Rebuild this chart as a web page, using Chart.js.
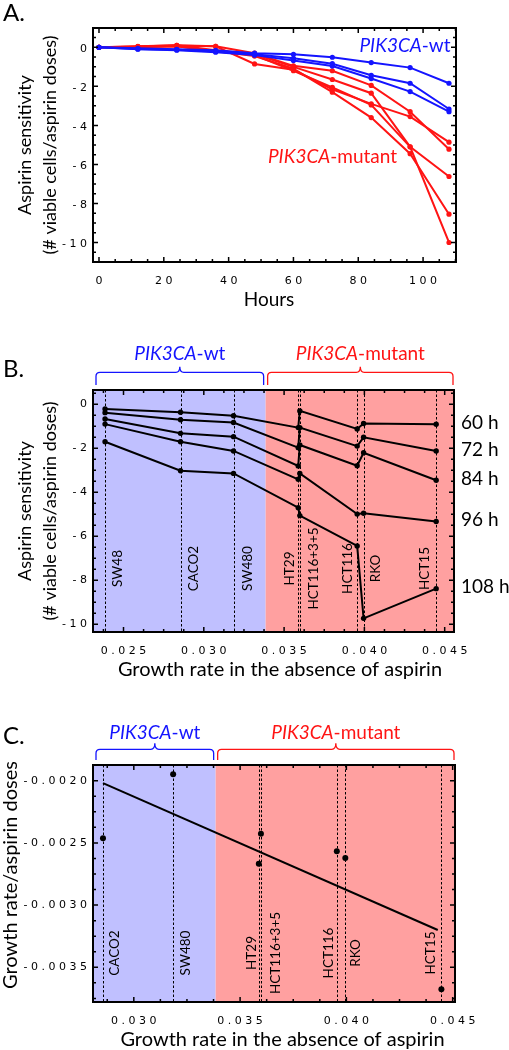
<!DOCTYPE html>
<html>
<head>
<meta charset="utf-8">
<script src="https://cdn.jsdelivr.net/npm/chart.js@4.4.0/dist/chart.umd.min.js"></script>
<style>
  body { margin: 0; background: #fff; width: 509px; height: 1050px; position: relative; overflow: hidden; }
  canvas { position: absolute; left: 0; }
</style>
</head>
<body>
<canvas id="chartA" width="509" height="310" style="top:0px"></canvas>
<canvas id="chartB" width="509" height="370" style="top:310px"></canvas>
<canvas id="chartC" width="509" height="370" style="top:680px"></canvas>
<script>
// ---- Datos ----
// Panel A: sensibilidad a la aspirina en el tiempo
const hours = [0, 12, 24, 36, 48, 60, 72, 84, 96, 108];
const wtSW48 = [0, -0.05, -0.10, -0.15, -0.30, -0.36, -0.51, -0.78, -1.04, -1.84];
const wtCACO2 = [0, -0.08, -0.12, -0.20, -0.35, -0.56, -0.84, -1.43, -1.84, -3.16];
const wtSW480 = [0, -0.10, -0.15, -0.25, -0.40, -0.68, -0.96, -1.60, -2.27, -3.30];
const mutHT29 = [0, 0.03, 0.08, 0.05, -0.85, -1.15, -2.15, -2.90, -3.55, -4.86];
const mutHCT116_3_5 = [0, 0.05, 0.10, 0.05, -0.30, -0.95, -1.20, -1.95, -3.30, -5.22];
const mutHCT116 = [0, 0.02, 0.06, -0.20, -0.40, -1.20, -2.05, -2.95, -5.10, -6.62];
const mutRKO = [0, 0.04, 0.10, -0.15, -0.35, -1.00, -1.65, -2.35, -5.10, -10.0];
const mutHCT15 = [0, 0.00, 0.05, -0.20, -0.45, -1.10, -2.30, -3.60, -5.45, -8.55];
const hourTicks = [0, 20, 40, 60, 80, 100];
const sensTicks = [-10, -8, -6, -4, -2, 0];

// Panel B: sensibilidad vs tasa de crecimiento
const cellLines = ['SW48', 'CACO2', 'SW480', 'HT29', 'HCT116+3+5', 'HCT116', 'RKO', 'HCT15'];
const growthRate = [0.02385, 0.02855, 0.03185, 0.03588, 0.03598, 0.03955, 0.03995, 0.04447];
const timeLabels = ['60 h', '72 h', '84 h', '96 h', '108 h'];
const sens60 = [-0.21, -0.36, -0.52, -1.06, -0.30, -1.12, -0.87, -0.91];
const sens72 = [-0.38, -0.70, -0.83, -1.97, -1.06, -1.90, -1.50, -2.12];
const sens84 = [-0.67, -1.32, -1.47, -2.80, -1.85, -2.79, -2.20, -3.45];
const sens96 = [-0.90, -1.70, -2.12, -3.41, -3.14, -4.99, -4.95, -5.33];
const sens108 = [-1.70, -3.02, -3.14, -4.70, -5.06, -6.44, -9.73, -8.38];
const growthTicksB = [0.025, 0.030, 0.035, 0.040, 0.045];
const wtBoundary = 0.03385; // límite wt / mutante

// Panel C: pendiente vs tasa de crecimiento (sin SW48)
const cellLinesC = ['CACO2', 'SW480', 'HT29', 'HCT116+3+5', 'HCT116', 'RKO', 'HCT15'];
const growthRateC = [0.02855, 0.03185, 0.03588, 0.03598, 0.03955, 0.03995, 0.04447];
const slopeC = [-0.002463, -0.001949, -0.002667, -0.002426, -0.002568, -0.002621, -0.003677];
const fitX = [0.02855, 0.0443];
const fitY = [-0.00202, -0.00320];
const growthTicksC = [0.030, 0.035, 0.040, 0.045];
const slopeTicks = [-0.0035, -0.0030, -0.0025, -0.0020];

// ---- Estilos ----
const BLUE = '#1414ff';
const RED = '#ff1414';
const WT_FILL = '#c0c0ff';
const MUT_FILL = '#ffa0a0';
const SANS = 'Lato, "Open Sans", sans-serif';
const TICK_FONT = { family: '"DejaVu Sans", sans-serif', size: 11 };
const CELL_FONT = '13.5px ' + SANS;

// desplazamiento horizontal de las etiquetas de línea celular respecto a su línea punteada
const labelShiftB = [12.5, 13.5, 13.8, -8.8, 14.2, -9.5, 12.5, -11.5];
const labelShiftC = [11.6, 12.3, -7.3, 14.6, -7.7, 10.7, -11];

const spaced = s => s.split('').join(' ');
const fixedTicks = values => scale => { scale.ticks = values.map(v => ({ value: v })); };

function vText(ctx, text, x, y, font, color) {
    ctx.save();
    ctx.translate(x, y);
    ctx.rotate(-Math.PI / 2);
    ctx.font = font;
    ctx.fillStyle = color || '#000';
    ctx.textAlign = 'center';
    ctx.textBaseline = 'middle';
    ctx.fillText(text, 0, 0);
    ctx.restore();
}

function hText(ctx, text, x, y, font, align) {
    ctx.save();
    ctx.font = font;
    ctx.fillStyle = '#000';
    ctx.textAlign = align || 'center';
    ctx.textBaseline = 'middle';
    ctx.fillText(text, x, y);
    ctx.restore();
}

function groupLabel(ctx, cx, cy, italicPart, rest, color) {
    const it = 'italic 19px ' + SANS, rg = '19px ' + SANS;
    ctx.save();
    ctx.fillStyle = color;
    ctx.textBaseline = 'middle';
    ctx.font = it;
    const w1 = ctx.measureText(italicPart).width;
    ctx.font = rg;
    const w2 = ctx.measureText(rest).width;
    const x = cx - (w1 + w2) / 2;
    ctx.font = it;
    ctx.fillText(italicPart, x, cy);
    ctx.font = rg;
    ctx.fillText(rest, x + w1, cy);
    ctx.restore();
}

function bracket(ctx, x0, x1, yLine, yEnd, yPeak, color) {
    const xm = (x0 + x1) / 2, r = 4;
    ctx.save();
    ctx.strokeStyle = color;
    ctx.lineWidth = 1.3;
    ctx.beginPath();
    ctx.moveTo(x0, yEnd);
    ctx.lineTo(x0, yLine + r);
    ctx.quadraticCurveTo(x0, yLine, x0 + r, yLine);
    ctx.lineTo(xm - r, yLine);
    ctx.quadraticCurveTo(xm, yLine, xm, yPeak);
    ctx.quadraticCurveTo(xm, yLine, xm + r, yLine);
    ctx.lineTo(x1 - r, yLine);
    ctx.quadraticCurveTo(x1, yLine, x1, yLine + r);
    ctx.lineTo(x1, yEnd);
    ctx.stroke();
    ctx.restore();
}

function panelLetter(ctx, letter, baseline) {
    ctx.save();
    ctx.font = '24px ' + SANS;
    ctx.fillStyle = '#000';
    ctx.textBaseline = 'alphabetic';
    ctx.fillText(letter, 3, baseline);
    ctx.restore();
}

// Marcas internas en los cuatro lados + marco
const innerTicks = {
    id: 'innerTicks',
    afterDatasetsDraw(chart, args, opts) {
        const { ctx, chartArea: a, scales } = chart;
        ctx.save();
        ctx.strokeStyle = '#000';
        ctx.lineWidth = 1.5;
        const draw = (scale, minor, major, isX) => {
            const start = Math.ceil(scale.min / minor - 1e-6);
            const end = Math.floor(scale.max / minor + 1e-6);
            for (let i = start; i <= end; i++) {
                const v = i * minor;
                const isMajor = Math.abs(v / major - Math.round(v / major)) < 1e-6;
                const len = isMajor ? 5 : 3;
                const p = scale.getPixelForValue(v);
                ctx.beginPath();
                if (isX) {
                    ctx.moveTo(p, a.bottom); ctx.lineTo(p, a.bottom - len);
                    ctx.moveTo(p, a.top); ctx.lineTo(p, a.top + len);
                } else {
                    ctx.moveTo(a.left, p); ctx.lineTo(a.left + len, p);
                    ctx.moveTo(a.right, p); ctx.lineTo(a.right - len, p);
                }
                ctx.stroke();
            }
        };
        draw(scales.x, opts.xMinor, opts.xMajor, true);
        draw(scales.y, opts.yMinor, opts.yMajor, false);
        ctx.lineWidth = 2;
        ctx.strokeRect(a.left, a.top, a.right - a.left, a.bottom - a.top);
        ctx.restore();
    }
};

// Sombreado wt/mutante, líneas punteadas y nombres de líneas celulares
function shadingPlugin(rates, names, shifts, labelY) {
    return {
        id: 'shading',
        beforeDatasetsDraw(chart) {
            const { ctx, chartArea: a, scales: { x } } = chart;
            const xb = x.getPixelForValue(wtBoundary);
            ctx.save();
            ctx.fillStyle = WT_FILL;
            ctx.fillRect(a.left, a.top, xb - a.left, a.bottom - a.top);
            ctx.fillStyle = MUT_FILL;
            ctx.fillRect(xb, a.top, a.right - xb, a.bottom - a.top);
            ctx.strokeStyle = '#000';
            ctx.lineWidth = 1;
            ctx.setLineDash([2.5, 2]);
            rates.forEach(g => {
                const px = Math.round(x.getPixelForValue(g)) + 0.5;
                ctx.beginPath();
                ctx.moveTo(px, a.top);
                ctx.lineTo(px, a.bottom);
                ctx.stroke();
            });
            ctx.setLineDash([]);
            names.forEach((name, i) => {
                vText(ctx, name, x.getPixelForValue(rates[i]) + shifts[i], labelY, CELL_FONT);
            });
            ctx.restore();
        }
    };
}

function groupHeader(chart, yLine, yEnd, yPeak, yText) {
    const { ctx, chartArea: a, scales: { x } } = chart;
    const xb = x.getPixelForValue(wtBoundary);
    const x0 = a.left + 3, x1 = xb - 2, x2 = xb + 2, x3 = a.right - 1;
    bracket(ctx, x0, x1, yLine, yEnd, yPeak, BLUE);
    bracket(ctx, x2, x3, yLine, yEnd, yPeak, RED);
    groupLabel(ctx, (x0 + x1) / 2, yText, 'PIK3CA', '-wt', BLUE);
    groupLabel(ctx, (x2 + x3) / 2, yText, 'PIK3CA', '-mutant', RED);
}

function baseScales(xCfg, yCfg) {
    const common = {
        type: 'linear',
        grid: { display: false, drawTicks: false },
        border: { display: false },
    };
    return {
        x: Object.assign({}, common, {
            min: xCfg.min, max: xCfg.max,
            afterBuildTicks: fixedTicks(xCfg.ticks),
            afterFit: s => { s.height = 48; },
            ticks: { font: TICK_FONT, color: '#000', padding: 13, maxRotation: 0, autoSkip: false, callback: xCfg.fmt }
        }),
        y: Object.assign({}, common, {
            min: yCfg.min, max: yCfg.max,
            afterBuildTicks: fixedTicks(yCfg.ticks),
            afterFit: s => { s.width = 93; },
            ticks: { font: TICK_FONT, color: '#000', padding: 6, autoSkip: false, labelOffset: yCfg.offset || 0, callback: yCfg.fmt }
        })
    };
}

const baseOptions = {
    responsive: false,
    animation: false,
    devicePixelRatio: 1,
    events: []
};

function lineSet(data, color, r) {
    return {
        data: hours.map((h, i) => ({ x: h, y: data[i] })),
        borderColor: color, backgroundColor: color,
        borderWidth: 2, pointRadius: r, pointBorderWidth: 0,
        showLine: true
    };
}

// ---- Panel A ----
new Chart(document.getElementById('chartA'), {
    type: 'scatter',
    data: {
        datasets: [
            lineSet(wtSW48, BLUE, 2.6), lineSet(wtCACO2, BLUE, 2.6), lineSet(wtSW480, BLUE, 2.6),
            lineSet(mutHT29, RED, 2.6), lineSet(mutHCT116_3_5, RED, 2.6), lineSet(mutHCT116, RED, 2.6),
            lineSet(mutRKO, RED, 2.6), lineSet(mutHCT15, RED, 2.6)
        ]
    },
    options: Object.assign({}, baseOptions, {
        layout: { padding: { top: 28, right: 53, left: 0, bottom: 0 } },
        scales: baseScales(
            { min: -1.85, max: 110.16, ticks: hourTicks, fmt: v => spaced(String(v)) },
            { min: -11.0, max: 0.99, ticks: sensTicks, fmt: v => spaced(String(v)), offset: 1.5 }
        ),
        plugins: {
            legend: { display: false }, tooltip: { enabled: false },
            innerTicks: { xMinor: 5, xMajor: 20, yMinor: 0.5, yMajor: 2 }
        }
    }),
    plugins: [innerTicks, {
        id: 'textA',
        afterDraw(chart) {
            const ctx = chart.ctx;
            panelLetter(ctx, 'A.', 21);
            groupLabel(ctx, 405, 46, 'PIK3CA', '-wt', BLUE);
            groupLabel(ctx, 332.5, 157, 'PIK3CA', '-mutant', RED);
            vText(ctx, 'Aspirin sensitivity', 25, 145, '18px ' + SANS);
            vText(ctx, '(# viable cells/aspirin doses)', 50, 145, '18px ' + SANS);
            hText(ctx, 'Hours', 269, 300, '19px ' + SANS);
        }
    }]
});

// ---- Panel B ----
const timeSeries = [sens60, sens72, sens84, sens96, sens108];
new Chart(document.getElementById('chartB'), {
    type: 'scatter',
    data: {
        datasets: timeSeries.map(vals => ({
            data: growthRate.map((g, i) => ({ x: g, y: vals[i] })),
            borderColor: '#000', backgroundColor: '#000',
            borderWidth: 2, pointRadius: 2.7, pointBorderWidth: 0, showLine: true
        }))
    },
    options: Object.assign({}, baseOptions, {
        layout: { padding: { top: 80, right: 55, left: 0, bottom: 0 } },
        scales: baseScales(
            { min: 0.0231, max: 0.04558, ticks: growthTicksB, fmt: v => spaced(v.toFixed(3)) },
            { min: -10.35, max: 0.65, ticks: sensTicks, fmt: v => spaced(String(v)) }
        ),
        plugins: {
            legend: { display: false }, tooltip: { enabled: false },
            innerTicks: { xMinor: 0.00125, xMajor: 0.005, yMinor: 0.5, yMajor: 2 }
        }
    }),
    plugins: [shadingPlugin(growthRate, cellLines, labelShiftB, 258.5), innerTicks, {
        id: 'textB',
        afterDraw(chart) {
            const ctx = chart.ctx, y = chart.scales.y;
            panelLetter(ctx, 'B.', 67);
            groupHeader(chart, 62.3, 75, 56.7, 44);
            timeSeries.forEach((vals, i) => {
                hText(ctx, timeLabels[i], 461, y.getPixelForValue(vals[vals.length - 1]) - 1.5, '19px ' + SANS, 'left');
            });
            vText(ctx, 'Aspirin sensitivity', 25, 201, '18px ' + SANS);
            vText(ctx, '(# viable cells/aspirin doses)', 50, 201, '18px ' + SANS);
            hText(ctx, 'Growth rate in the absence of aspirin', 280, 360, '20px ' + SANS);
        }
    }]
});

// ---- Panel C ----
new Chart(document.getElementById('chartC'), {
    type: 'scatter',
    data: {
        datasets: [
            {
                data: growthRateC.map((g, i) => ({ x: g, y: slopeC[i] })),
                borderColor: '#000', backgroundColor: '#000',
                pointRadius: 3, pointBorderWidth: 0, showLine: false
            },
            {
                data: fitX.map((g, i) => ({ x: g, y: fitY[i] })),
                borderColor: '#000', borderWidth: 2, pointRadius: 0, showLine: true
            }
        ]
    },
    options: Object.assign({}, baseOptions, {
        layout: { padding: { top: 85, right: 54, left: 0, bottom: 0 } },
        scales: baseScales(
            { min: 0.02808, max: 0.04511, ticks: growthTicksC, fmt: v => spaced(v.toFixed(3)) },
            { min: -0.003779, max: -0.001874, ticks: slopeTicks, fmt: v => spaced(v.toFixed(4)) }
        ),
        plugins: {
            legend: { display: false }, tooltip: { enabled: false },
            innerTicks: { xMinor: 0.00125, xMajor: 0.005, yMinor: 0.000125, yMajor: 0.0005 }
        }
    }),
    plugins: [shadingPlugin(growthRateC, cellLinesC, labelShiftC, 273), innerTicks, {
        id: 'textC',
        afterDraw(chart) {
            const ctx = chart.ctx;
            panelLetter(ctx, 'C.', 64);
            groupHeader(chart, 69.3, 80, 63.3, 53);
            vText(ctx, 'Growth rate/aspirin doses', 10.5, 195, '20px ' + SANS);
            hText(ctx, 'Growth rate in the absence of aspirin', 282.5, 360, '20px ' + SANS);
        }
    }]
});
</script>
</body>
</html>
